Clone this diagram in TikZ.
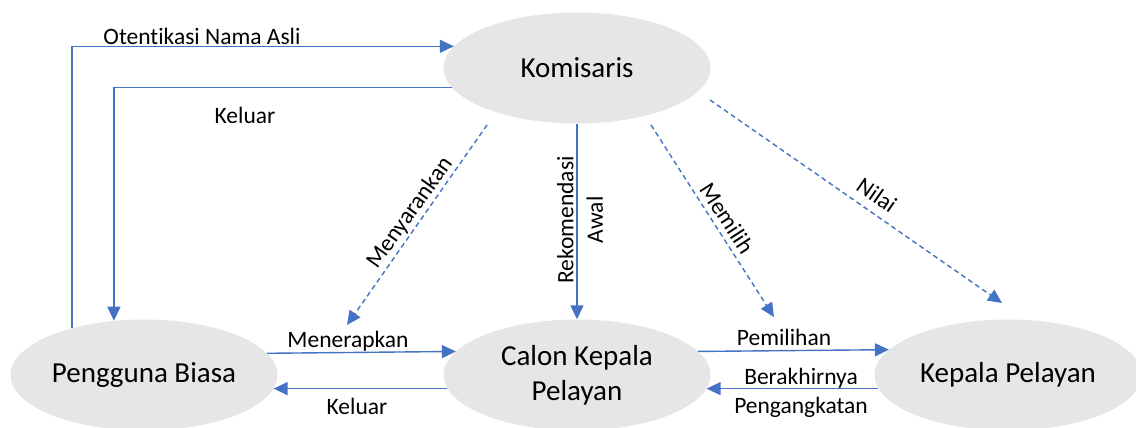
\documentclass[tikz,border=0pt]{standalone}
\usepackage{fontspec}
\setmainfont{Carlito}[Ligatures={NoCommon,NoContextual}]
\usetikzlibrary{shapes.geometric,arrows.meta}
\definecolor{lineblue}{HTML}{4472C4}
\definecolor{ellfill}{HTML}{E7E6E6}
\tikzset{
  state/.style={ellipse, fill=ellfill, draw=none, minimum width=267pt, minimum height=111pt, inner sep=0pt,
    font=\fontsize{29}{35}\selectfont, align=center},
  flow/.style={draw=lineblue, line width=1.4pt, -{Triangle[length=14pt,width=13pt]}},
  dflow/.style={flow, dash pattern=on 5pt off 3.5pt},
  lbl/.style={font=\fontsize{23.5}{29.5}\selectfont, inner sep=0pt, align=center}
}
\begin{document}
\begin{tikzpicture}[x=1pt,y=-1pt]
\useasboundingbox (0,0) rectangle (1136,428);
\node[state] (kom) at (577,68) {Komisaris};
\node[state] (pb) at (144,375) {Pengguna Biasa};
\node[state] (ckp) at (577,375) {Calon Kepala\\Pelayan};
\node[state] (kp) at (1008,375) {Kepala Pelayan};

% solid connectors
\draw[flow] (pb.147.8) |- (kom.170.9);
\draw[flow] (kom.189.1) -| (pb.119.6);
\draw[flow] (pb.10.2) -- (ckp.169.8);
\draw[flow] (ckp.186.7) -- (pb.-6.7);
\draw[flow] (ckp.11.9) -- (kp.168.1);
\draw[flow] (kp.186.7) -- (ckp.-6.7);
\draw[flow] (kom.south) -- (ckp.north);

% dashed connectors
\coordinate (ms) at (487,125);
\coordinate (me) at (347,325);
\coordinate (ls) at (651,125);
\coordinate (le) at (774,317);
\coordinate (ns) at (710,100);
\coordinate (ne) at (1002,303);
\draw[dflow] (ms) -- (me);
\draw[dflow] (ls) -- (le);
\draw[dflow] (ns) -- (ne);

% labels
\node[lbl] (l1) at (202,36) {Otentikasi Nama Asli};
\node[lbl] (l2) at (245,115) {Keluar};
\node[lbl] (l3) at (348,341) {Menerapkan};
\node[lbl] (l4) at (357,406) {Keluar};
\node[lbl] (l5) at (784,337) {Pemilihan};
\node[lbl] (l6) at (801,378) {Berakhirnya};
\node[lbl] (l7) at (801,407) {Pengangkatan};
\node[lbl, rotate=90] (l8) at (580,220) {Rekomendasi\\Awal};
\node[lbl, rotate=54.5] (l9) at (410,213) {Menyarankan};
\node[lbl, rotate=-57] (l10) at (727,218) {Memilih};
\node[lbl, rotate=-34.7] (l11) at (877,195) {Nilai};
\end{tikzpicture}
\end{document}
